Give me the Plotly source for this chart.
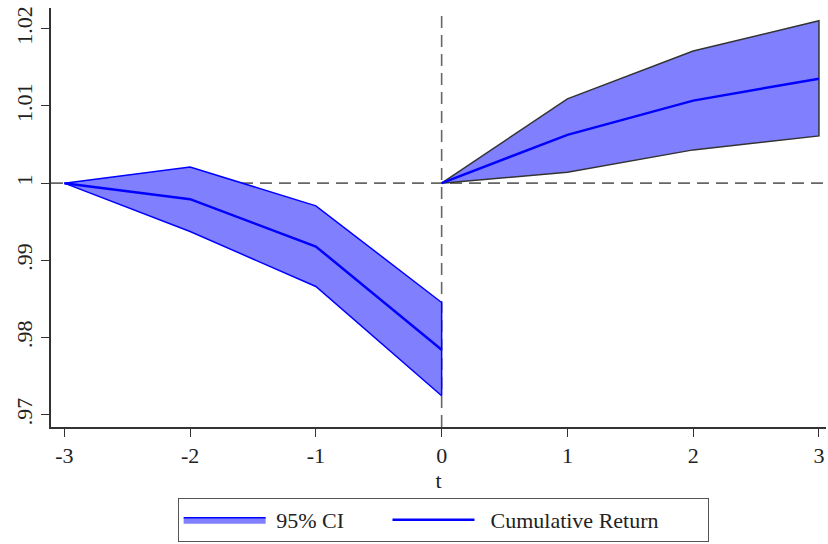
import plotly.graph_objects as go

# Data
t_pre = [-3, -2, -1, 0]
upper_pre = [1.0, 1.0021, 0.99706, 0.98455]
mean_pre = [1.0, 0.99793, 0.9918, 0.97843]
lower_pre = [1.0, 0.99374, 0.98662, 0.97248]

t_post = [0, 1, 2, 3]
upper_post = [1.0, 1.01091, 1.01711, 1.02104]
mean_post = [1.0, 1.00625, 1.01069, 1.01353]
lower_post = [1.0, 1.00142, 1.00431, 1.00612]

y_ticks = [0.97, 0.98, 0.99, 1.0, 1.01, 1.02]
y_ticklabels = [".97", ".98", ".99", "1", "1.01", "1.02"]
x_ticks = [-3, -2, -1, 0, 1, 2, 3]
x_ticklabels = ["-3", "-2", "-1", "0", "1", "2", "3"]

FILL = "rgba(128,128,255,1)"
BLUE = "#0000ff"
DARK = "#333333"
FONT = "Liberation Serif"
FS = 22
NBSP = "\u00a0"

fig = go.Figure()

# Confidence bands
fig.add_trace(go.Scatter(
    x=t_pre + t_pre[::-1], y=upper_pre + lower_pre[::-1],
    fill="toself", fillcolor=FILL, mode="lines",
    line=dict(color=BLUE, width=1.5), name=NBSP + "95% CI" + NBSP * 7,
    showlegend=True, hoverinfo="skip"))
fig.add_trace(go.Scatter(
    x=t_post + t_post[::-1], y=upper_post + lower_post[::-1],
    fill="toself", fillcolor=FILL, mode="lines",
    line=dict(color=DARK, width=1.5), name="95% CI", showlegend=False,
    hoverinfo="skip"))

# Mean lines
fig.add_trace(go.Scatter(
    x=t_pre, y=mean_pre, mode="lines",
    line=dict(color=BLUE, width=2.5), name=NBSP + NBSP + "Cumulative Return" + NBSP * 8,
    showlegend=True))
fig.add_trace(go.Scatter(
    x=t_post, y=mean_post, mode="lines",
    line=dict(color=BLUE, width=2.5), name="Cumulative Return", showlegend=False))

# Reference lines (drawn beneath the data)
fig.add_shape(type="line", xref="paper", x0=0, x1=1, yref="y", y0=1, y1=1,
              line=dict(color="#666666", width=1.6, dash="12px,7px"), layer="below")
fig.add_shape(type="line", xref="x", x0=0, x1=0, yref="paper", y0=0, y1=0.99,
              line=dict(color="#666666", width=1.6, dash="12px,7px"), layer="below")

fig.update_layout(
    width=828, height=544,
    margin=dict(l=51, r=2, t=8, b=117, autoexpand=False),
    paper_bgcolor="white", plot_bgcolor="white",
    font=dict(family=FONT, size=FS, color="#222222"),
    showlegend=True,
    legend=dict(
        orientation="h", x=0.506, xanchor="center", y=-0.1695, yanchor="top",
        bordercolor="#555555", borderwidth=1, bgcolor="white",
        itemwidth=82, font=dict(family=FONT, size=FS),
        traceorder="normal", tracegroupgap=0,
    ),
    xaxis=dict(
        range=[-3.106, 3.056], tickmode="array", tickvals=x_ticks,
        ticktext=x_ticklabels, ticklabeloverflow="allow",
        ticks="outside", ticklen=8, tickwidth=1.3, tickcolor=DARK,
        showline=True, linecolor=DARK, linewidth=1.5, showgrid=False,
        zeroline=False, mirror=False,
        title=dict(text="t", standoff=0, font=dict(family=FONT, size=FS)),
        tickfont=dict(family=FONT, size=FS),
    ),
    yaxis=dict(
        range=[0.96843, 1.02268], tickmode="array", tickvals=y_ticks,
        ticktext=y_ticklabels, tickangle=-90, ticklabeloverflow="allow",
        ticks="outside", ticklen=8, tickwidth=1.3, tickcolor=DARK,
        showline=True, linecolor=DARK, linewidth=1.5, showgrid=False,
        zeroline=False, mirror=False,
        tickfont=dict(family=FONT, size=FS),
    ),
)

fig.write_html(
    "out.html",
    config={"displayModeBar": False},
    post_script="document.body.style.margin='0';document.body.style.overflow='hidden';",
)
